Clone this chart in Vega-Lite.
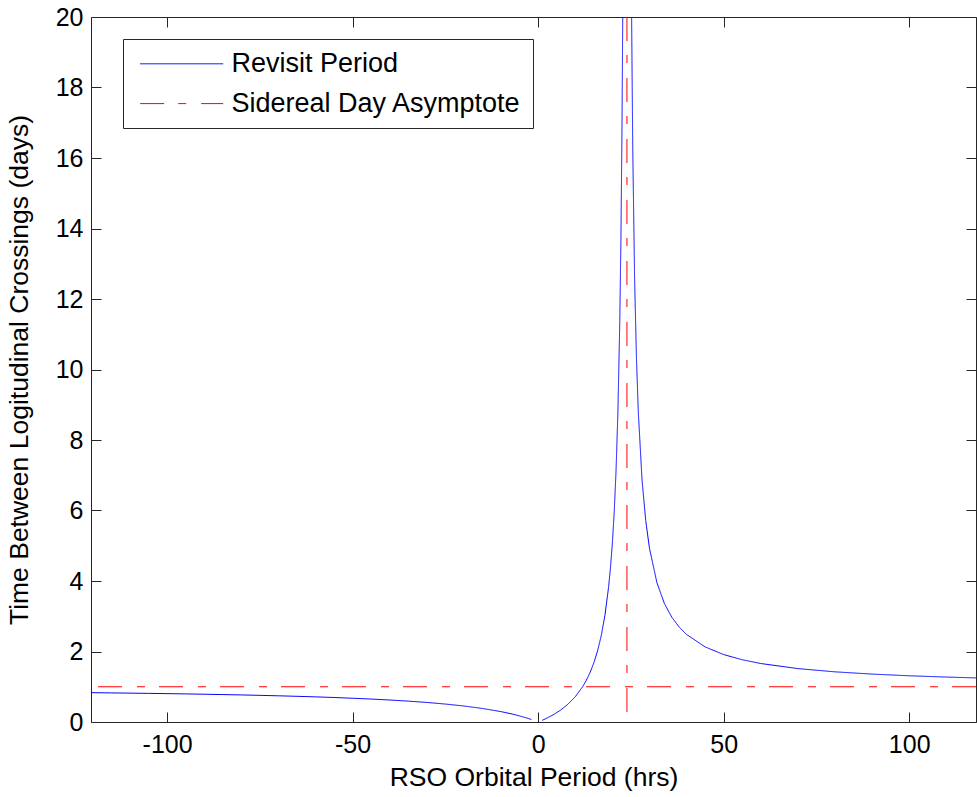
{
  "$schema": "https://vega.github.io/schema/vega-lite/v6.json",
  "width": 885,
  "height": 705,
  "autosize": "none",
  "padding": {"left": 91, "top": 17, "right": 1, "bottom": 75},
  "background": "white",
  "config": {
    "font": "Liberation Sans",
    "view": {"stroke": "#262626", "strokeWidth": 1},
    "axis": {
      "labelFont": "Liberation Sans",
      "titleFont": "Liberation Sans",
      "labelFontSize": 25,
      "titleFontSize": 26.5,
      "titleFontWeight": "normal",
      "labelColor": "black",
      "titleColor": "black",
      "grid": false,
      "domain": false,
      "tickColor": "#262626",
      "tickSize": -10,
      "tickWidth": 1
    },
    "legend": {
      "orient": "none",
      "legendX": 32,
      "legendY": 22,
      "fillColor": "white",
      "strokeColor": "#262626",
      "padding": 11.3,
      "labelFont": "Liberation Sans",
      "labelFontSize": 27,
      "labelColor": "black",
      "labelOffset": 70.1,
      "labelLimit": 600,
      "symbolType": "M-0.95,0H9.425",
      "symbolSize": 256,
      "symbolStrokeWidth": 1,
      "rowPadding": 11.8
    }
  },
  "datasets": {
    "curve": [
      {"T": -120.5, "D": 0.832, "branch": "a"},
      {"T": -115, "D": 0.825, "branch": "a"},
      {"T": -110, "D": 0.819, "branch": "a"},
      {"T": -105, "D": 0.812, "branch": "a"},
      {"T": -100, "D": 0.805, "branch": "a"},
      {"T": -95, "D": 0.797, "branch": "a"},
      {"T": -90, "D": 0.788, "branch": "a"},
      {"T": -85, "D": 0.778, "branch": "a"},
      {"T": -80, "D": 0.768, "branch": "a"},
      {"T": -75, "D": 0.756, "branch": "a"},
      {"T": -70, "D": 0.743, "branch": "a"},
      {"T": -65, "D": 0.729, "branch": "a"},
      {"T": -60, "D": 0.713, "branch": "a"},
      {"T": -55, "D": 0.695, "branch": "a"},
      {"T": -50, "D": 0.674, "branch": "a"},
      {"T": -45, "D": 0.651, "branch": "a"},
      {"T": -40, "D": 0.624, "branch": "a"},
      {"T": -35, "D": 0.592, "branch": "a"},
      {"T": -30, "D": 0.555, "branch": "a"},
      {"T": -25, "D": 0.509, "branch": "a"},
      {"T": -20, "D": 0.454, "branch": "a"},
      {"T": -15, "D": 0.384, "branch": "a"},
      {"T": -10, "D": 0.294, "branch": "a"},
      {"T": -7, "D": 0.226, "branch": "a"},
      {"T": -5, "D": 0.172, "branch": "a"},
      {"T": -3, "D": 0.111, "branch": "a"},
      {"T": -1.8, "D": 0.07, "branch": "a"},
      {"T": 1.1, "D": 0.048, "branch": "b"},
      {"T": 2, "D": 0.091, "branch": "b"},
      {"T": 4, "D": 0.2, "branch": "b"},
      {"T": 6, "D": 0.334, "branch": "b"},
      {"T": 8, "D": 0.501, "branch": "b"},
      {"T": 10, "D": 0.716, "branch": "b"},
      {"T": 12, "D": 1.003, "branch": "b"},
      {"T": 13, "D": 1.186, "branch": "b"},
      {"T": 14, "D": 1.405, "branch": "b"},
      {"T": 15, "D": 1.674, "branch": "b"},
      {"T": 16, "D": 2.011, "branch": "b"},
      {"T": 17, "D": 2.445, "branch": "b"},
      {"T": 18, "D": 3.025, "branch": "b"},
      {"T": 19, "D": 3.84, "branch": "b"},
      {"T": 19.5, "D": 4.386, "branch": "b"},
      {"T": 20, "D": 5.07, "branch": "b"},
      {"T": 20.5, "D": 5.953, "branch": "b"},
      {"T": 21, "D": 7.138, "branch": "b"},
      {"T": 21.5, "D": 8.809, "branch": "b"},
      {"T": 22, "D": 11.344, "branch": "b"},
      {"T": 22.3, "D": 13.61, "branch": "b"},
      {"T": 22.6, "D": 16.895, "branch": "b"},
      {"T": 22.8, "D": 20.05, "branch": "b"},
      {"T": 23.0, "D": 24.557, "branch": "b"},
      {"T": 25.0, "D": 23.39, "branch": "c"},
      {"T": 25.2, "D": 19.85, "branch": "c"},
      {"T": 25.5, "D": 16.24, "branch": "c"},
      {"T": 26, "D": 12.55, "branch": "c"},
      {"T": 26.5, "D": 10.3, "branch": "c"},
      {"T": 27, "D": 8.782, "branch": "c"},
      {"T": 28, "D": 6.867, "branch": "c"},
      {"T": 29, "D": 5.709, "branch": "c"},
      {"T": 30, "D": 4.932, "branch": "c"},
      {"T": 32, "D": 3.956, "branch": "c"},
      {"T": 34, "D": 3.368, "branch": "c"},
      {"T": 36, "D": 2.975, "branch": "c"},
      {"T": 38, "D": 2.694, "branch": "c"},
      {"T": 40, "D": 2.483, "branch": "c"},
      {"T": 45, "D": 2.13, "branch": "c"},
      {"T": 50, "D": 1.913, "branch": "c"},
      {"T": 55, "D": 1.766, "branch": "c"},
      {"T": 60, "D": 1.659, "branch": "c"},
      {"T": 70, "D": 1.515, "branch": "c"},
      {"T": 80, "D": 1.423, "branch": "c"},
      {"T": 90, "D": 1.359, "branch": "c"},
      {"T": 100, "D": 1.311, "branch": "c"},
      {"T": 110, "D": 1.275, "branch": "c"},
      {"T": 118, "D": 1.251, "branch": "c"}
    ],
    "vline": [{"P": 23.934, "series": "Sidereal Day Asymptote"}],
    "hline": [{"V": 1, "series": "Sidereal Day Asymptote"}]
  },
  "layer": [
    {
      "data": {"name": "curve"},
      "mark": {"type": "line", "clip": true, "strokeWidth": 1, "interpolate": "linear"},
      "encoding": {
        "x": {
          "field": "T", "type": "quantitative",
          "scale": {"domain": [-120.5, 118], "nice": false, "zero": false},
          "axis": {"values": [-100, -50, 0, 50, 100], "labelExpr": "toString(datum.value)", "title": "RSO Orbital Period (hrs)", "labelPadding": 20, "titlePadding": 7}
        },
        "y": {
          "field": "D", "type": "quantitative",
          "scale": {"domain": [0, 20], "nice": false},
          "axis": {"values": [0, 2, 4, 6, 8, 10, 12, 14, 16, 18, 20], "title": "Time Between Logitudinal Crossings (days)", "labelPadding": 18, "titlePadding": 22}
        },
        "detail": {"field": "branch"},
        "color": {"datum": "Revisit Period", "type": "nominal",
          "scale": {"domain": ["Revisit Period", "Sidereal Day Asymptote"], "range": ["#0000ff", "#ff0000"]},
          "legend": {"title": null}},
        "strokeDash": {"datum": "Revisit Period", "type": "nominal",
          "scale": {"domain": ["Revisit Period", "Sidereal Day Asymptote"], "range": [[1, 0], [24, 14, 8, 15]]},
          "legend": {"title": null}}
      }
    },
    {
      "data": {"name": "vline"},
      "mark": {"type": "rule", "strokeWidth": 1},
      "encoding": {
        "x": {"field": "P", "type": "quantitative",
          "axis": {"orient": "top", "values": [-100, -50, 0, 50, 100], "labels": false, "title": null}},
        "color": {"field": "series", "type": "nominal", "legend": {"title": null}},
        "strokeDash": {"field": "series", "type": "nominal", "legend": {"title": null}}
      }
    },
    {
      "data": {"name": "hline"},
      "mark": {"type": "rule", "strokeWidth": 1},
      "encoding": {
        "y": {"field": "V", "type": "quantitative",
          "axis": {"orient": "right", "values": [0, 2, 4, 6, 8, 10, 12, 14, 16, 18, 20], "labels": false, "title": null}},
        "color": {"field": "series", "type": "nominal", "legend": {"title": null}},
        "strokeDash": {"field": "series", "type": "nominal", "legend": {"title": null}}
      }
    }
  ],
  "resolve": {"axis": {"x": "independent", "y": "independent"}}
}
